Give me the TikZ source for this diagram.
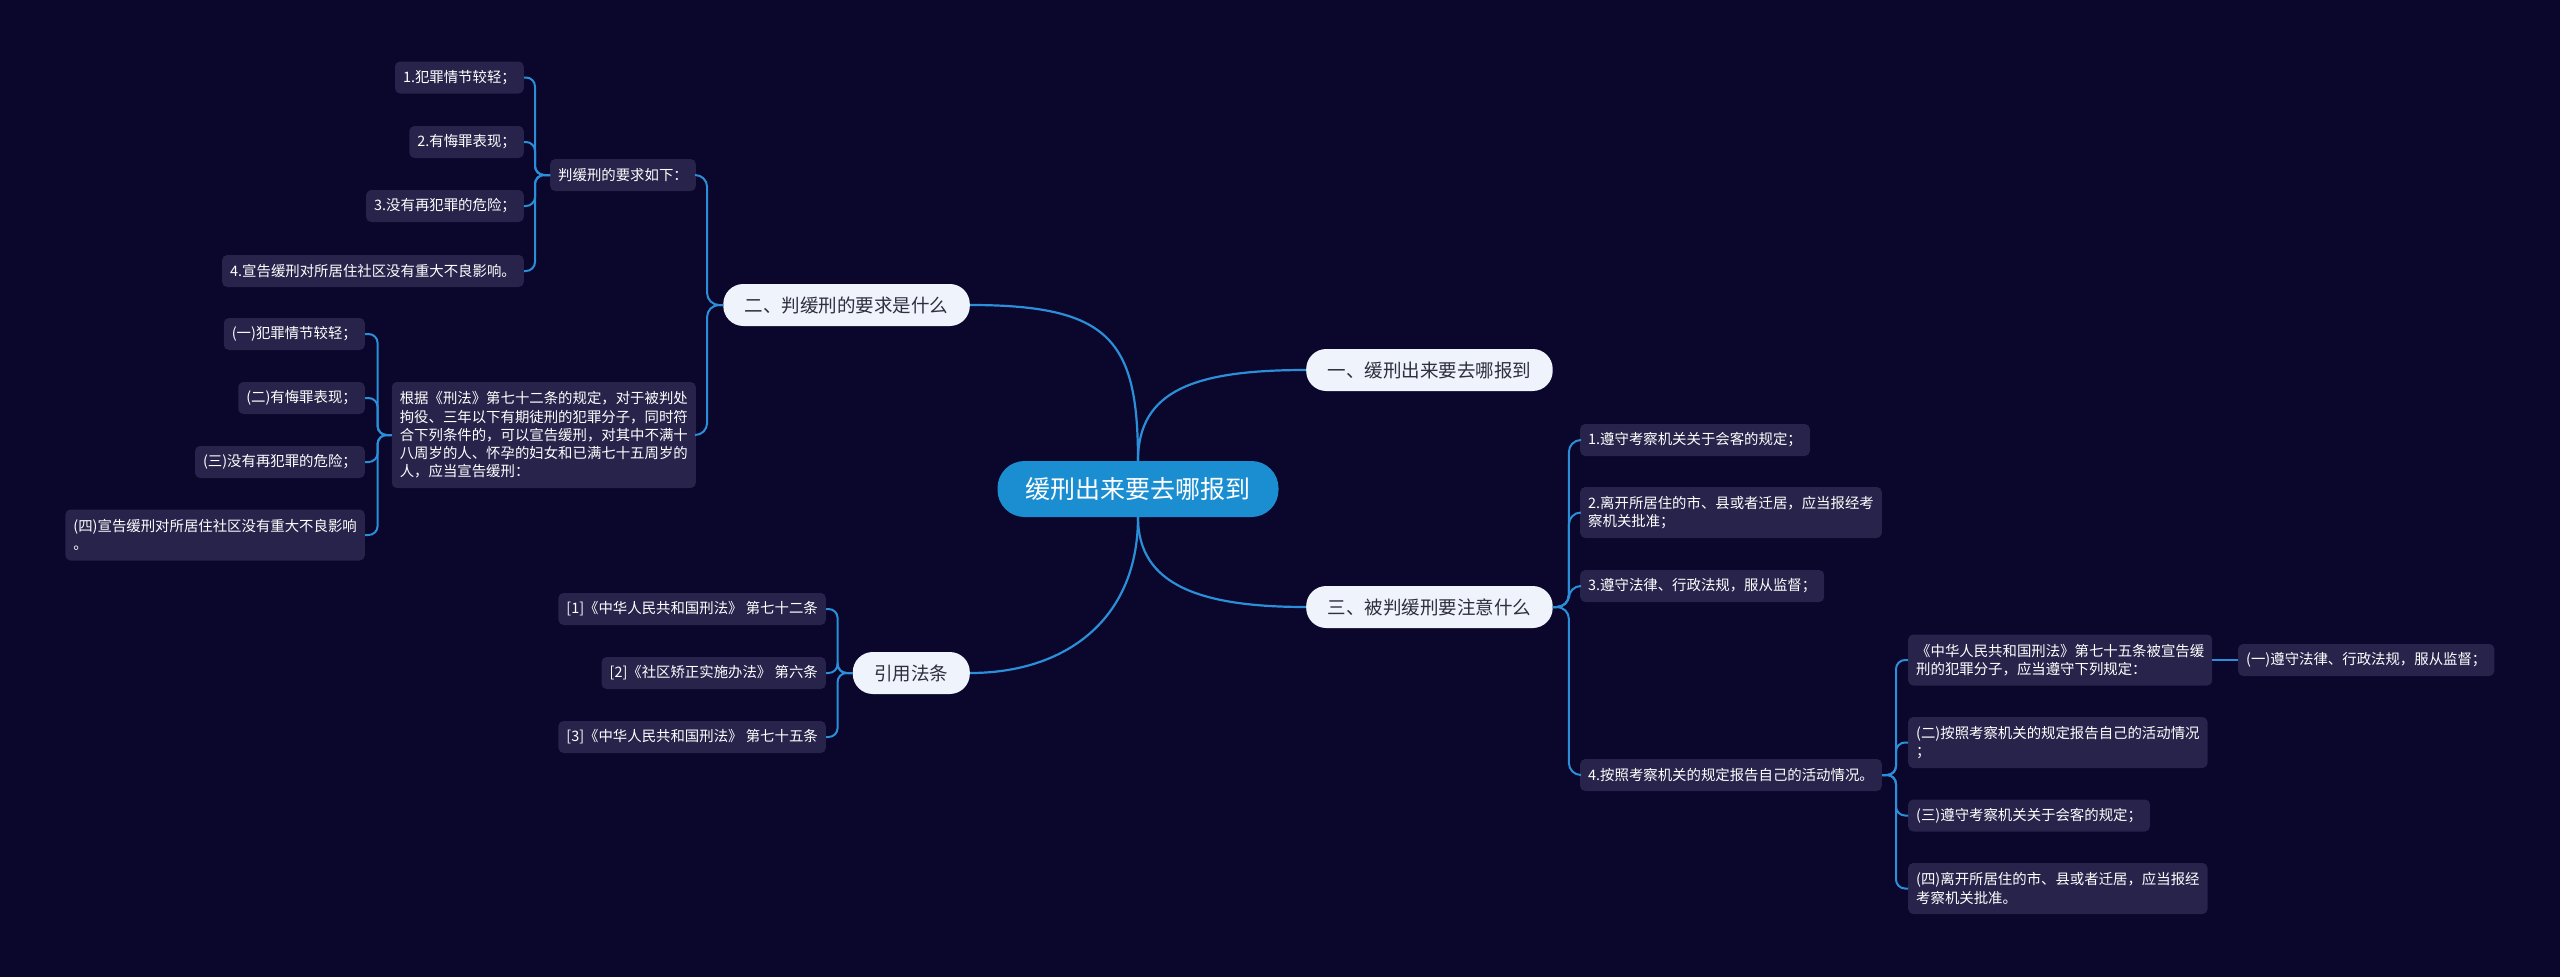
\documentclass[tikz,border=0pt]{standalone}
\usepackage{fontspec}
\setmainfont{Noto Sans CJK SC}
\definecolor{bgc}{HTML}{0B062B}
\definecolor{boxc}{HTML}{28234A}
\definecolor{linec}{HTML}{2A8FD8}
\definecolor{rootc}{HTML}{1B8ED2}
\definecolor{mainc}{HTML}{EEF3FC}
\definecolor{maintext}{HTML}{2E2E3C}
\begin{document}
\begin{tikzpicture}[x=1pt,y=-1pt,
  leaf/.style={fill=boxc, text=white, rounded corners=5pt, inner xsep=8pt, inner ysep=0pt,
    minimum height=32pt, font=\fontsize{14.4}{18.3}\selectfont, align=left},
  leaftwo/.style={leaf, minimum height=51pt},
  mainnode/.style={fill=mainc, text=maintext, rounded corners=20pt, inner xsep=21.5pt, inner ysep=0pt,
    minimum height=42pt, font=\fontsize{18.5}{22}\selectfont},
  rootnode/.style={fill=rootc, text=white, rounded corners=27pt, inner xsep=28pt, inner ysep=0pt,
    minimum height=56pt, font=\fontsize{25}{30}\selectfont},
  link/.style={draw=linec, line width=2pt, rounded corners=9pt},
  curve/.style={draw=linec, line width=2.2pt}]
\fill[bgc] (0,0) rectangle (2560,977);
\useasboundingbox (0,0) rectangle (2560,977);

% root and main branches
\node[rootnode] (root) at (1138,489) {缓刑出来要去哪报到};
\node[mainnode, anchor=west] (b1) at (1306,370) {一、缓刑出来要去哪报到};
\node[mainnode, anchor=east] (b2) at (970,305) {二、判缓刑的要求是什么};
\node[mainnode, anchor=west] (b3) at (1306,607) {三、被判缓刑要注意什么};
\node[mainnode, anchor=east] (b4) at (970,673) {引用法条};

\draw[curve] (root.north) .. controls (1138,340) and (1110,305) .. (b2.east);
\draw[curve] (root.north) .. controls (1138,390) and (1195,370) .. (b1.west);
\draw[curve] (root.south) .. controls (1138,585) and (1200,607) .. (b3.west);
\draw[curve] (root.south) .. controls (1138,620) and (1065,673) .. (b4.east);

% branch 二
\node[leaf, anchor=east] (p1) at (696,175) {判缓刑的要求如下：};
\node[leaf, anchor=east, minimum height=106pt] (p2) at (696,435) {根据《刑法》第七十二条的规定，对于被判处\\拘役、三年以下有期徒刑的犯罪分子，同时符\\合下列条件的，可以宣告缓刑，对其中不满十\\八周岁的人、怀孕的妇女和已满七十五周岁的\\人，应当宣告缓刑：};
\draw[link, rounded corners=12pt] (b2.west) -- ++(-16,0) |- (p1.east);
\draw[link, rounded corners=12pt] (b2.west) -- ++(-16,0) |- (p2.east);

\node[leaf, anchor=east] (q1) at (524,77.5) {1.犯罪情节较轻；};
\node[leaf, anchor=east] (q2) at (524,142) {2.有悔罪表现；};
\node[leaf, anchor=east] (q3) at (524,206) {3.没有再犯罪的危险；};
\node[leaf, anchor=east] (q4) at (524,271) {4.宣告缓刑对所居住社区没有重大不良影响。};
\foreach \c in {q1,q2,q3,q4}
  \draw[link] (p1.west) -- ++(-15,0) |- (\c.east);

\node[leaf, anchor=east] (r1) at (365,334) {(一)犯罪情节较轻；};
\node[leaf, anchor=east] (r2) at (365,398) {(二)有悔罪表现；};
\node[leaf, anchor=east] (r3) at (365,462) {(三)没有再犯罪的危险；};
\node[leaftwo, anchor=east] (r4) at (365,535) {(四)宣告缓刑对所居住社区没有重大不良影响\\。};
\foreach \c in {r1,r2,r3,r4}
  \draw[link] (p2.west) -- ++(-14,0) |- (\c.east);

% branch 引用法条
\node[leaf, anchor=east] (s1) at (826,609) {[1]《中华人民共和国刑法》 第七十二条};
\node[leaf, anchor=east] (s2) at (826,673) {[2]《社区矫正实施办法》 第六条};
\node[leaf, anchor=east] (s3) at (826,737) {[3]《中华人民共和国刑法》 第七十五条};
\foreach \c in {s1,s2,s3}
  \draw[link] (b4.west) -- ++(-15,0) |- (\c.east);

% branch 三
\node[leaf, anchor=west] (t1) at (1580,440) {1.遵守考察机关关于会客的规定；};
\node[leaftwo, anchor=west] (t2) at (1580,512.5) {2.离开所居住的市、县或者迁居，应当报经考\\察机关批准；};
\node[leaf, anchor=west] (t3) at (1580,586) {3.遵守法律、行政法规，服从监督；};
\node[leaf, anchor=west] (t4) at (1580,775) {4.按照考察机关的规定报告自己的活动情况。};
\foreach \c in {t1,t2,t3,t4}
  \draw[link, rounded corners=12pt] (b3.east) -- ++(16,0) |- (\c.west);

\node[leaftwo, anchor=west] (u1) at (1908,660) {《中华人民共和国刑法》第七十五条被宣告缓\\刑的犯罪分子，应当遵守下列规定：};
\node[leaftwo, anchor=west] (u2) at (1908,742.5) {(二)按照考察机关的规定报告自己的活动情况\\；};
\node[leaf, anchor=west] (u3) at (1908,815.5) {(三)遵守考察机关关于会客的规定；};
\node[leaftwo, anchor=west] (u4) at (1908,888.5) {(四)离开所居住的市、县或者迁居，应当报经\\考察机关批准。};
\foreach \c in {u1,u2,u3,u4}
  \draw[link] (t4.east) -- ++(14,0) |- (\c.west);

\node[leaf, anchor=west] (v1) at (2238,660) {(一)遵守法律、行政法规，服从监督；};
\draw[link] (u1.east) -- (v1.west);
\end{tikzpicture}
\end{document}
